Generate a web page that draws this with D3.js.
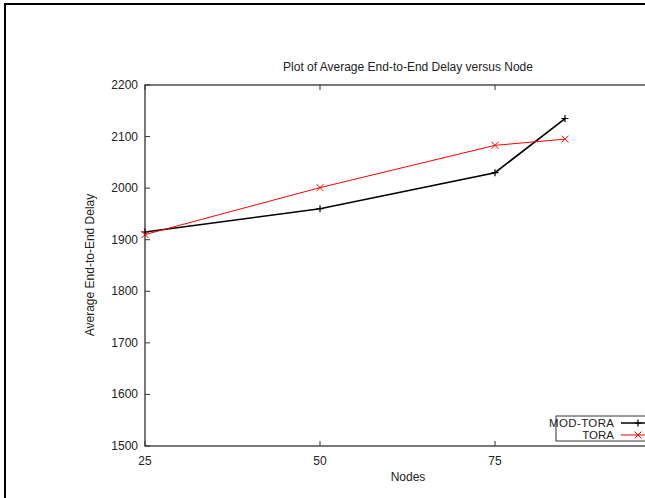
<!DOCTYPE html>
<html><head><meta charset="utf-8">
<script src="https://cdn.jsdelivr.net/npm/d3@7"></script>
<style>body{margin:0;background:#fff;overflow:hidden}svg{display:block}text{font-family:"Liberation Sans",Arial,sans-serif}</style>
</head><body>
<script>
const nodes = [25, 50, 75, 85];
const modTora = [1915, 1960, 2030, 2135];
const tora = [1910, 2001, 2083, 2095];
const xTicks = [25, 50, 75];
const yTicks = [1500, 1600, 1700, 1800, 1900, 2000, 2100, 2200];
const seriesNames = ["MOD-TORA", "TORA"];
const seriesColors = ["#000000", "#ff0000"];

const W = 645, H = 498;
const svg = d3.select("body").append("svg").attr("width", W).attr("height", H);
const m = {left: 145, top: 85, right: 670, bottom: 446};
const x = d3.scaleLinear().domain([25, 100]).range([m.left, m.right]);
const y = d3.scaleLinear().domain([1500, 2200]).range([m.bottom, m.top]);
const fs = 12;

// document frame
svg.append("line").attr("x1", 5).attr("x2", W).attr("y1", 4).attr("y2", 4).attr("stroke", "#000").attr("stroke-width", 2);
svg.append("line").attr("x1", 5).attr("x2", 5).attr("y1", 3).attr("y2", H).attr("stroke", "#000").attr("stroke-width", 2);

// plot border
svg.append("rect").attr("x", m.left).attr("y", m.top).attr("width", m.right - m.left).attr("height", m.bottom - m.top)
  .attr("fill", "none").attr("stroke", "#333").attr("stroke-width", 1.3);

const tl = 5;
const yg = svg.append("g");
yTicks.forEach(v => {
  yg.append("line").attr("x1", m.left).attr("x2", m.left + tl).attr("y1", y(v)).attr("y2", y(v)).attr("stroke", "#333");
  yg.append("text").attr("x", m.left - 7).attr("y", y(v) + 4).attr("text-anchor", "end").attr("font-size", fs).attr("fill", "#222").text(v);
});
const xg = svg.append("g");
xTicks.forEach(v => {
  xg.append("line").attr("x1", x(v)).attr("x2", x(v)).attr("y1", m.bottom).attr("y2", m.bottom - tl).attr("stroke", "#333");
  xg.append("line").attr("x1", x(v)).attr("x2", x(v)).attr("y1", m.top).attr("y2", m.top + tl).attr("stroke", "#333");
  xg.append("text").attr("x", x(v)).attr("y", m.bottom + 19).attr("text-anchor", "middle").attr("font-size", fs).attr("fill", "#222").text(v);
});

svg.append("text").attr("x", 408).attr("y", 71).attr("text-anchor", "middle").attr("font-size", fs).attr("fill", "#222")
  .text("Plot of Average End-to-End Delay versus Node");
svg.append("text").attr("x", 408).attr("y", 481).attr("text-anchor", "middle").attr("font-size", fs).attr("fill", "#222").text("Nodes");
svg.append("text").attr("transform", "translate(94,265) rotate(-90)").attr("text-anchor", "middle").attr("font-size", fs).attr("fill", "#222")
  .text("Average End-to-End Delay");

const line = d3.line().x(d => x(d[0])).y(d => y(d[1]));
const series = [modTora, tora];
const widths = [1.6, 1];
function marker(g, cx, cy, i, color) {
  const s = 3.5;
  if (i === 0) {
    g.append("path").attr("d", `M${cx - s},${cy}H${cx + s}M${cx},${cy - s}V${cy + s}`).attr("stroke", color).attr("stroke-width", 1.2).attr("fill", "none");
  } else {
    g.append("path").attr("d", `M${cx - s},${cy - s}L${cx + s},${cy + s}M${cx - s},${cy + s}L${cx + s},${cy - s}`).attr("stroke", color).attr("stroke-width", 1).attr("fill", "none");
  }
}
series.forEach((vals, i) => {
  const pts = nodes.map((n, j) => [n, vals[j]]);
  svg.append("path").attr("d", line(pts)).attr("fill", "none").attr("stroke", seriesColors[i]).attr("stroke-width", widths[i]);
  const g = svg.append("g");
  pts.forEach(p => marker(g, x(p[0]), y(p[1]), i, seriesColors[i]));
});

svg.append("rect").attr("x", 556).attr("y", 416).attr("width", 120).attr("height", 25).attr("fill", "#fff").attr("stroke", "#333").attr("stroke-width", 1);
seriesNames.forEach((n, i) => {
  const ly = 423 + i * 12;
  svg.append("text").attr("x", 614).attr("y", ly + 4).attr("text-anchor", "end").attr("font-size", 11.5).attr("textLength", n.length > 4 ? 65 : null)
    .attr("fill", "#222").text(n);
  svg.append("line").attr("x1", 621).attr("x2", 655).attr("y1", ly).attr("y2", ly).attr("stroke", seriesColors[i]).attr("stroke-width", widths[i]);
  marker(svg, 638, ly, i, seriesColors[i]);
});
</script>
</body></html>
